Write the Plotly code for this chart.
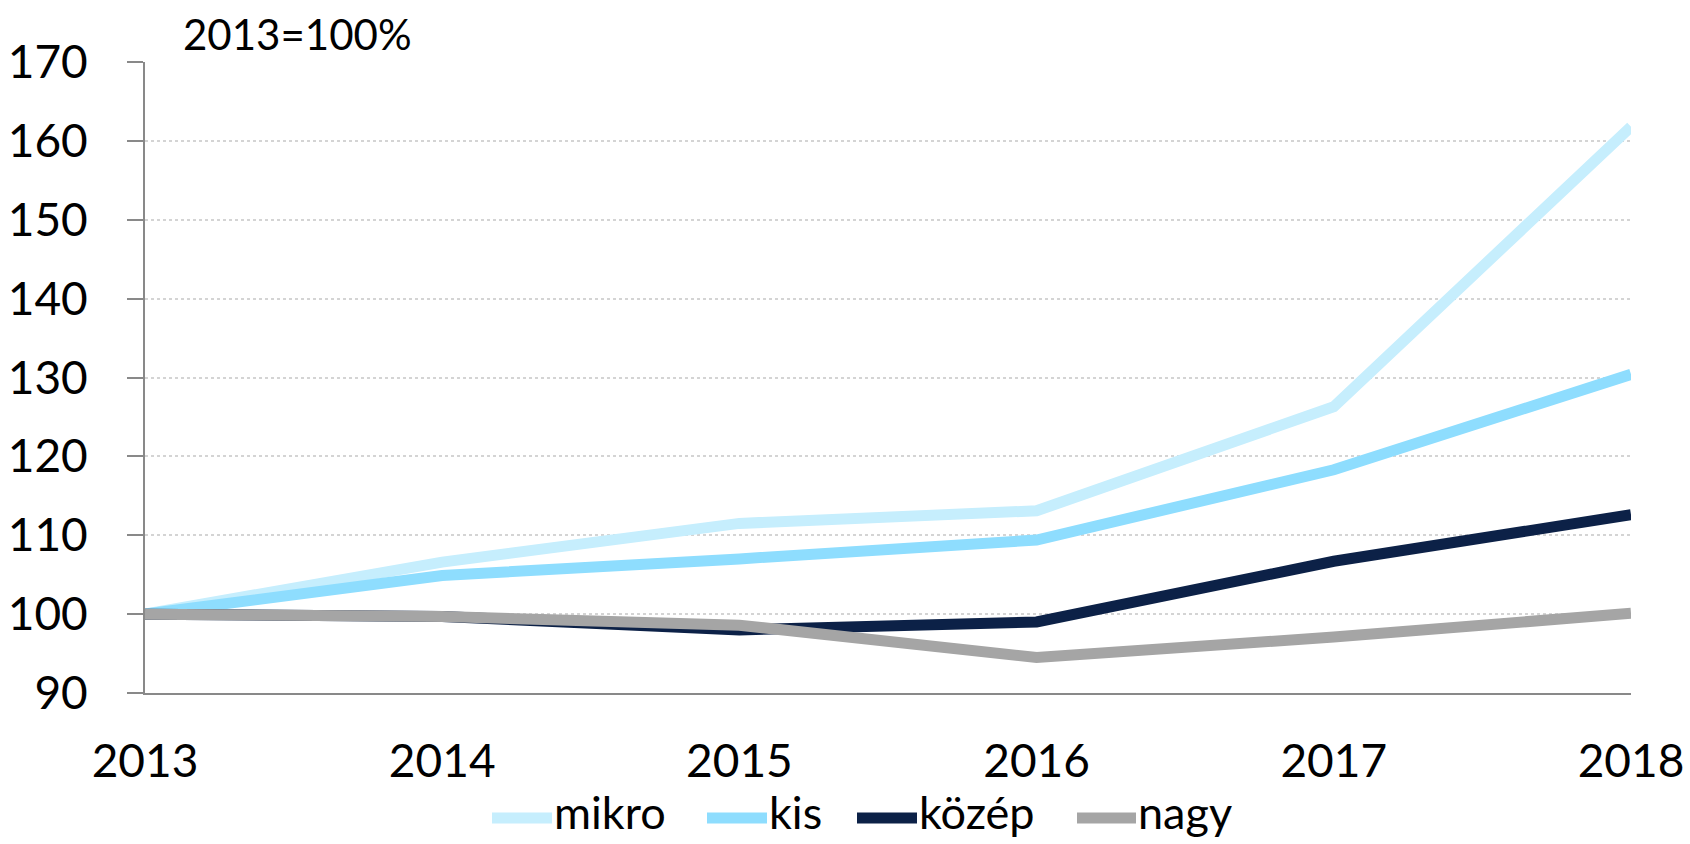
import plotly.graph_objects as go

years = [2013, 2014, 2015, 2016, 2017, 2018]
mikro = [100, 106.6, 111.5, 113.1, 126.3, 161.8]
kis = [100, 104.9, 107.0, 109.4, 118.3, 130.4]
kozep = [100, 99.7, 98.0, 99.0, 106.7, 112.6]
nagy = [100, 99.7, 98.6, 94.5, 97.1, 100.1]

series_names = ["mikro", "kis", "közép", "nagy"]
series_values = [mikro, kis, kozep, nagy]
colors = ["#C6EEFD", "#8EDDFE", "#0C2147", "#A5A5A5"]

y_ticks = [90, 100, 110, 120, 130, 140, 150, 160, 170]
note_text = "2013=100%"

FONT = "Lato"

# layout geometry (pixels)
W, H = 1690, 844
ML, MR, MT, MB = 145, 59, 62, 151
PW, PH = W - ML - MR, H - MT - MB


def px_to_paper_x(px):
    return (px - ML) / PW


def px_to_paper_y(py):
    return (H - MB - py) / PH


fig = go.Figure()
for name, vals, col in zip(series_names, series_values, colors):
    fig.add_trace(go.Scatter(
        x=years, y=vals, name=name, mode="lines",
        line=dict(color=col, width=11),
        showlegend=False,
    ))

# custom legend (placed manually to avoid margin push)
legend_line_px = [(492, 552), (707, 767), (857, 917), (1077, 1136)]
legend_line_y = px_to_paper_y(818)
legend_text_y = px_to_paper_y(812)
shapes = []
annotations = []
for (x0, x1), name, col in zip(legend_line_px, series_names, colors):
    shapes.append(dict(
        type="line", xref="paper", yref="paper",
        x0=px_to_paper_x(x0), x1=px_to_paper_x(x1), y0=legend_line_y, y1=legend_line_y,
        line=dict(color=col, width=11),
    ))
    annotations.append(dict(
        text=name, xref="paper", yref="paper",
        x=px_to_paper_x(x1 + 1), y=legend_text_y, xanchor="left", yanchor="middle",
        showarrow=False, borderpad=0,
        font=dict(family=FONT, size=45, color="#000000"),
    ))

annotations.append(dict(
    text=note_text, xref="paper", yref="paper", x=px_to_paper_x(182), y=px_to_paper_y(34),
    xanchor="left", yanchor="middle", showarrow=False, borderpad=0,
    font=dict(family=FONT, size=42, color="#000000"),
))

fig.update_layout(
    width=W, height=H,
    margin=dict(l=ML, r=MR, t=MT, b=MB),
    plot_bgcolor="white", paper_bgcolor="white",
    font=dict(family=FONT, size=46, color="#000000"),
    showlegend=False,
    xaxis=dict(
        range=[2013, 2018], tickvals=years, ticktext=[str(y) for y in years],
        showgrid=False, zeroline=False, showline=True, linecolor="#898989",
        linewidth=2, ticks="", ticklabelstandoff=27, automargin=False,
        tickfont=dict(family=FONT, size=46, color="#000000"),
    ),
    yaxis=dict(
        range=[90, 170], tickvals=y_ticks, ticktext=[str(v) for v in y_ticks],
        showgrid=True, gridcolor="#D4D4D4", griddash="dot", gridwidth=2,
        zeroline=False, showline=True, linecolor="#898989", linewidth=2,
        ticks="outside", ticklen=16, tickwidth=2, tickcolor="#898989",
        ticklabelstandoff=30, automargin=False,
        tickfont=dict(family=FONT, size=46, color="#000000"),
    ),
    shapes=shapes,
    annotations=annotations,
)

fig.write_html(
    "out.html",
    config={"displayModeBar": False},
    post_script="document.body.style.margin='0';document.body.style.padding='0';"
                "document.body.style.overflow='hidden';",
)
